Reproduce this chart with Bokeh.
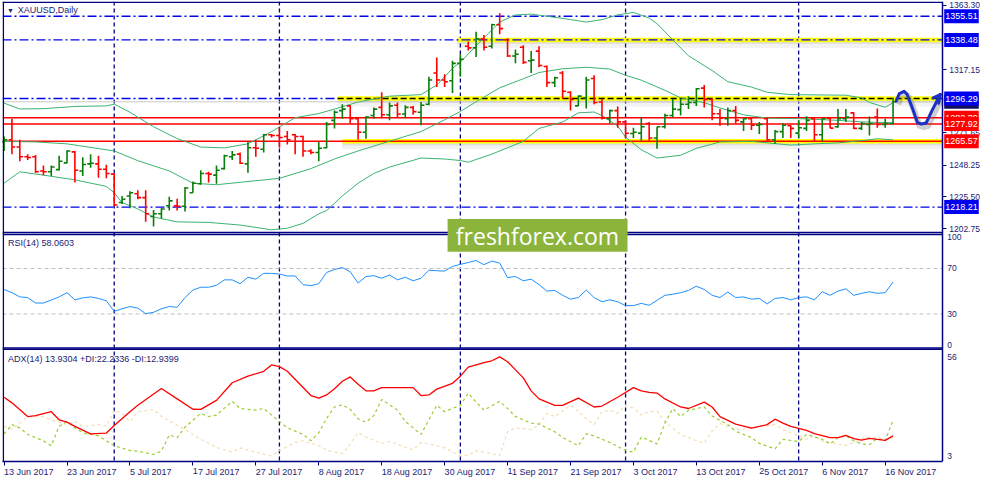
from bokeh.plotting import figure
from bokeh.models import (Range1d, FixedTicker, Span, Label, BoxAnnotation,
                          ColumnDataSource, NumeralTickFormatter)
from bokeh.embed import file_html
from bokeh.resources import INLINE

# ------------------------------------------------------------------ data
tick_bars = [0, 8, 16, 24, 32, 40, 48, 56, 64, 72, 80, 88, 96, 104, 112]
tick_dates = ["13 Jun 2017", "23 Jun 2017", "5 Jul 2017", "17 Jul 2017", "27 Jul 2017",
              "8 Aug 2017", "18 Aug 2017", "30 Aug 2017", "11 Sep 2017", "21 Sep 2017",
              "3 Oct 2017", "13 Oct 2017", "25 Oct 2017", "6 Nov 2017", "16 Nov 2017"]
month_start_bars = [14, 35, 58, 79, 101]
price_ticks = [1363.30, 1317.15, 1271.65, 1248.25, 1225.50, 1202.75]

bars = list(range(114))
open_ = [1265.1, 1266.7, 1261.4, 1254.4, 1254.4, 1244.2, 1243.6, 1245.2, 1250.0, 1257.9,
         1244.2, 1249.3, 1249.3, 1245.4, 1241.9, 1221.5, 1226.2, 1227.8, 1225.0, 1211.5,
         1213.4, 1219.2, 1219.2, 1218.8, 1228.5, 1235.0, 1242.4, 1241.2, 1245.9, 1254.4,
         1256.3, 1249.3, 1260.9, 1259.8, 1270.2, 1269.7, 1269.0, 1270.2, 1269.0, 1258.6,
         1257.5, 1260.9, 1280.6, 1287.6, 1291.0, 1281.8, 1272.0, 1284.1, 1289.9, 1284.6,
         1291.5, 1285.2, 1289.9, 1286.4, 1292.2, 1314.7, 1309.6, 1309.1, 1321.6, 1333.9,
         1332.7, 1339.2, 1333.9, 1349.4, 1338.5, 1326.9, 1333.2, 1323.5, 1330.4, 1319.3,
         1307.7, 1314.7, 1300.8, 1291.0, 1296.8, 1310.7, 1293.8, 1281.8, 1287.6, 1279.5,
         1271.1, 1271.4, 1278.3, 1267.9, 1276.0, 1284.1, 1288.3, 1292.2, 1293.4, 1303.8,
         1295.7, 1285.3, 1281.8, 1287.6, 1279.5, 1281.8, 1277.1, 1281.8, 1266.7, 1272.5,
         1276.7, 1271.4, 1274.8, 1281.8, 1270.2, 1282.2, 1276.0, 1281.8, 1286.0, 1274.8,
         1277.6, 1282.9, 1277.6, 1278.3]
high = [1269.0, 1281.8, 1266.7, 1256.3, 1255.6, 1248.2, 1248.2, 1255.1, 1259.1, 1258.6,
        1254.0, 1256.3, 1255.1, 1248.6, 1242.4, 1226.2, 1229.7, 1230.4, 1230.4, 1216.2,
        1217.4, 1225.7, 1224.3, 1232.7, 1236.6, 1244.7, 1243.6, 1248.2, 1255.8, 1258.6,
        1257.5, 1265.1, 1266.7, 1270.7, 1270.7, 1276.0, 1273.0, 1270.7, 1269.5, 1259.8,
        1265.1, 1279.5, 1287.6, 1292.2, 1291.5, 1282.2, 1283.6, 1289.9, 1300.8, 1293.4,
        1293.4, 1291.5, 1291.0, 1293.8, 1311.9, 1325.8, 1313.7, 1323.5, 1328.1, 1337.4,
        1344.3, 1342.0, 1350.1, 1357.7, 1339.7, 1331.6, 1334.6, 1330.4, 1333.9, 1320.0,
        1311.9, 1316.1, 1301.5, 1298.5, 1311.9, 1313.0, 1296.1, 1288.3, 1290.6, 1280.6,
        1275.3, 1282.9, 1279.5, 1276.0, 1285.3, 1296.1, 1296.1, 1298.0, 1303.8, 1306.1,
        1296.1, 1288.7, 1289.9, 1291.0, 1282.9, 1282.9, 1279.5, 1282.2, 1273.7, 1278.3,
        1277.1, 1280.6, 1283.6, 1282.2, 1282.2, 1282.9, 1288.7, 1288.7, 1286.4, 1279.5,
        1283.4, 1289.2, 1281.8, 1296.8]
low = [1258.6, 1256.3, 1251.2, 1252.1, 1242.9, 1241.2, 1240.5, 1244.5, 1249.8, 1235.9,
       1240.5, 1246.6, 1239.4, 1238.9, 1218.8, 1220.4, 1217.4, 1223.9, 1207.7, 1204.2,
       1210.0, 1215.8, 1215.8, 1215.1, 1228.5, 1234.3, 1235.9, 1235.0, 1245.2, 1252.1,
       1249.3, 1242.9, 1254.4, 1257.5, 1268.3, 1260.9, 1263.2, 1256.3, 1254.4, 1256.3,
       1251.2, 1260.5, 1274.8, 1281.8, 1278.3, 1266.7, 1267.4, 1281.8, 1282.2, 1280.6,
       1282.9, 1282.2, 1284.6, 1277.1, 1291.5, 1304.5, 1304.5, 1300.3, 1311.9, 1330.9,
       1326.2, 1330.9, 1332.3, 1342.5, 1326.2, 1321.6, 1321.1, 1314.7, 1318.8, 1304.5,
       1304.5, 1296.1, 1287.6, 1291.0, 1289.2, 1292.2, 1281.3, 1278.3, 1275.3, 1267.9,
       1267.9, 1266.0, 1266.0, 1260.2, 1274.8, 1282.9, 1284.1, 1288.7, 1291.0, 1289.9,
       1280.6, 1276.7, 1276.7, 1278.3, 1273.0, 1273.7, 1270.7, 1266.0, 1263.7, 1267.9,
       1267.9, 1267.9, 1273.0, 1265.1, 1265.6, 1275.0, 1275.3, 1279.5, 1274.4, 1273.7,
       1269.7, 1275.3, 1275.3, 1277.6]
close = [1266.7, 1261.4, 1254.4, 1253.9, 1243.6, 1243.6, 1247.0, 1251.2, 1258.6, 1244.7,
         1248.9, 1249.8, 1245.4, 1242.4, 1219.7, 1223.9, 1228.5, 1225.0, 1213.4, 1213.4,
         1216.9, 1222.7, 1218.8, 1232.0, 1235.4, 1242.4, 1241.9, 1244.7, 1255.1, 1255.8,
         1249.8, 1260.9, 1260.5, 1270.2, 1269.7, 1268.3, 1266.7, 1269.0, 1258.6, 1257.5,
         1260.5, 1277.6, 1286.4, 1288.7, 1281.8, 1272.0, 1282.9, 1288.7, 1284.6, 1291.0,
         1285.2, 1289.9, 1286.9, 1291.5, 1309.6, 1309.6, 1308.4, 1321.6, 1324.6, 1332.7,
         1339.2, 1333.2, 1349.4, 1346.6, 1326.9, 1328.1, 1322.3, 1323.9, 1320.0, 1307.7,
         1311.2, 1301.5, 1295.7, 1298.0, 1309.6, 1293.4, 1282.2, 1287.6, 1279.5, 1271.3,
         1272.0, 1276.0, 1267.9, 1276.0, 1284.1, 1288.7, 1292.2, 1293.4, 1303.3, 1295.7,
         1285.3, 1282.2, 1287.6, 1280.6, 1281.8, 1277.1, 1277.6, 1266.7, 1272.5, 1277.1,
         1274.8, 1275.3, 1280.6, 1270.2, 1281.8, 1275.0, 1281.8, 1282.9, 1274.8, 1278.3,
         1278.3, 1277.6, 1278.3, 1293.93]

# Bollinger bands (read at sample bars)
bb_upper_bar = [0, 2, 5, 9, 13, 14, 16, 19, 22, 25, 28, 31, 34, 37, 40, 42, 45, 49, 53, 55,
                57, 58, 61, 63, 65, 67, 69, 72, 74, 76, 78, 80, 82, 83, 85, 87, 90, 92, 95,
                97, 100, 107, 109, 110, 112, 113]
bb_upper = [1293.0, 1288.8, 1289.0, 1290.6, 1291.0, 1292.3, 1286.4, 1276.0, 1267.5, 1261.4,
            1260.8, 1263.7, 1272.5, 1282.5, 1285.5, 1288.7, 1293.8, 1298.0, 1299.1, 1306.0,
            1318.0, 1322.5, 1340.0, 1351.3, 1356.4, 1357.0, 1355.5, 1353.1, 1351.3, 1353.0,
            1356.5, 1358.2, 1354.2, 1350.1, 1338.5, 1327.0, 1316.5, 1308.4, 1304.5, 1300.8,
            1299.1, 1298.7, 1296.8, 1293.5, 1290.0, 1293.3]
bb_mid_bar = [0, 4, 8, 14, 17, 21, 24, 27, 31, 35, 39, 42, 45, 49, 53, 56, 58, 60, 63, 66,
              68, 71, 74, 77, 79, 81, 84, 86, 89, 91, 94, 97, 101, 106, 109, 113]
bb_mid = [1265.5, 1265.1, 1263.7, 1258.6, 1251.6, 1244.2, 1235.4, 1234.3, 1236.6, 1238.9,
          1245.9, 1252.8, 1258.6, 1265.6, 1272.5, 1281.0, 1287.0, 1294.0, 1304.0, 1310.5,
          1315.0, 1317.7, 1318.8, 1317.5, 1313.0, 1309.5, 1302.2, 1296.8, 1293.3, 1289.5,
          1284.6, 1282.2, 1281.8, 1280.6, 1279.5, 1278.8]
bb_low_bar = [0, 2, 5, 9, 13, 14, 15, 17, 19, 22, 26, 30, 34, 36, 38, 40, 41, 43, 45, 47,
              49, 53, 56, 58, 59, 62, 64, 66, 68, 71, 73, 75, 76, 78, 79, 81, 83, 86, 88,
              90, 91, 95, 100, 103, 106, 109, 111, 113]
bb_low = [1235.4, 1243.6, 1241.2, 1237.8, 1233.1, 1228.5, 1221.5, 1216.9, 1211.1, 1207.6,
          1207.2, 1205.3, 1201.9, 1203.0, 1206.5, 1213.4, 1215.7, 1226.2, 1235.4, 1242.4,
          1247.0, 1253.5, 1252.8, 1251.7, 1250.5, 1256.3, 1260.9, 1265.5, 1274.8, 1279.4,
          1286.0, 1286.6, 1284.1, 1276.5, 1268.5, 1259.5, 1253.5, 1255.5, 1260.5, 1263.5,
          1265.1, 1265.5, 1262.8, 1263.7, 1264.4, 1266.0, 1267.4, 1266.6]

rsi = [51.5, 48.7, 45.0, 44.4, 39.6, 39.6, 42.2, 45.0, 48.7, 42.4,
       44.1, 45.0, 43.6, 41.6, 32.2, 34.5, 36.5, 35.1, 30.2, 31.4,
       34.5, 36.5, 35.9, 44.4, 51.0, 53.5, 53.5, 55.2, 60.0, 60.0,
       56.6, 62.3, 60.6, 65.7, 65.7, 65.1, 63.4, 63.4, 55.8, 54.9,
       56.6, 66.5, 69.1, 70.8, 67.1, 57.2, 62.9, 63.7, 61.4, 64.3,
       60.0, 62.3, 59.2, 61.4, 68.5, 68.0, 67.7, 71.9, 73.6, 75.3,
       77.0, 73.4, 76.5, 74.8, 62.0, 62.9, 59.2, 60.6, 55.8, 50.1,
       50.7, 46.4, 43.0, 44.4, 51.0, 44.4, 40.7, 42.4, 40.7, 37.3,
       37.3, 39.3, 37.6, 42.0, 46.4, 47.3, 48.7, 50.7, 54.4, 51.5,
       46.4, 44.4, 49.3, 44.4, 45.0, 43.0, 43.6, 38.8, 43.6, 44.4,
       42.4, 44.4, 45.0, 42.4, 49.5, 46.4, 50.1, 52.1, 46.4, 48.1,
       49.5, 48.1, 48.7, 58.06]

adx_bar = [0, 1, 3, 4, 6, 7, 8, 9, 11, 13, 14, 16, 17, 20, 22, 24, 25, 27, 29, 31,
           33, 34, 35, 36, 39, 40, 41, 42, 43, 44, 45, 46, 47, 48, 52, 53, 54, 55, 57, 58,
           59, 61, 62, 63, 64, 66, 67, 68, 70, 71, 73, 75, 76, 78, 80, 81, 82, 83, 84, 86,
           87, 89, 90, 91, 93, 95, 97, 98, 99, 100, 102, 103, 105, 106, 107, 108, 109, 110,
           111, 112, 113]
adx = [34.5, 31.5, 24.2, 24.7, 26.8, 22.5, 21.2, 19.0, 15.0, 15.4, 19.4, 26.8, 30.2, 39.1,
       33.6, 28.1, 28.0, 32.8, 42.2, 45.7, 48.3, 51.7, 50.8, 48.3, 35.4, 34.0, 35.7, 39.0,
       43.0, 45.3, 41.4, 37.9, 37.9, 39.6, 39.6, 35.4, 35.7, 38.8, 41.9, 45.7, 50.5, 52.9,
       53.9, 56.0, 53.4, 44.8, 37.9, 33.6, 30.2, 30.2, 34.0, 29.3, 29.8, 34.5, 39.6, 37.9,
       37.1, 36.7, 33.6, 29.3, 28.5, 31.9, 29.3, 24.2, 20.2, 18.0, 19.9, 22.8, 20.7, 19.0,
       16.8, 15.1, 13.0, 13.0, 14.2, 12.5, 11.6, 12.6, 12.0, 11.5, 13.93]
pdi_bar = [0, 1, 2, 3, 5, 6, 7, 8, 9, 10, 12, 13, 14, 16, 17, 19, 20, 21, 22, 23,
           25, 26, 27, 29, 30, 32, 33, 35, 36, 38, 39, 40, 41, 42, 43, 44, 45, 46, 47, 48,
           50, 51, 53, 54, 55, 56, 58, 59, 60, 61, 63, 64, 65, 67, 68, 70, 71, 73, 74, 75,
           77, 79, 80, 81, 82, 83, 84, 85, 86, 87, 89, 90, 92, 93, 95, 96, 98, 99, 101, 102,
           104, 105, 106, 107, 108, 109, 110, 111, 112, 113]
pdi = [15.0, 19.9, 18.2, 14.7, 11.3, 8.7, 19.0, 21.6, 18.2, 15.6, 13.9, 11.3, 8.7, 6.1,
       5.8, 4.0, 5.8, 14.4, 13.0, 18.5, 25.9, 24.2, 25.0, 32.3, 28.5, 27.6, 28.5, 21.6,
       18.2, 14.7, 11.3, 15.6, 23.3, 29.3, 30.5, 28.0, 23.0, 21.2, 24.7, 33.3, 27.6, 21.6,
       14.7, 22.5, 30.2, 26.8, 30.2, 36.7, 31.9, 27.6, 32.3, 28.5, 24.2, 20.7, 20.2, 16.1,
       13.0, 8.7, 15.0, 13.9, 10.4, 6.1, 5.3, 13.3, 11.5, 9.6, 20.7, 28.5, 24.2, 27.6,
       29.3, 24.5, 19.9, 16.4, 13.0, 9.9, 7.0, 12.1, 10.9, 14.7, 12.1, 9.6, 13.0, 13.9,
       11.3, 9.6, 9.2, 12.6, 11.3, 22.23]
mdi_bar = [0, 1, 2, 3, 5, 6, 8, 9, 10, 12, 13, 14, 15, 16, 17, 19, 20, 23, 25, 27,
           29, 30, 32, 34, 35, 37, 38, 40, 41, 43, 44, 45, 46, 48, 49, 51, 52, 53, 54, 56,
           57, 58, 59, 60, 62, 63, 64, 65, 67, 68, 69, 70, 72, 73, 74, 75, 76, 77, 78, 79,
           80, 81, 82, 83, 84, 86, 88, 89, 90, 91, 93, 95, 96, 98, 99, 100, 102, 103, 104,
           105, 107, 109, 110, 111, 112, 113]
mdi = [19.0, 17.3, 20.7, 24.2, 24.2, 22.5, 19.9, 21.6, 19.0, 19.9, 19.0, 27.6, 25.9, 21.6,
       26.8, 28.0, 24.2, 17.3, 12.1, 7.8, 5.2, 7.5, 5.2, 3.2, 6.1, 10.4, 11.3, 8.7, 6.3,
       4.4, 9.6, 15.6, 13.3, 9.9, 10.9, 7.8, 6.5, 10.4, 9.6, 7.5, 5.3, 3.5, 3.5, 6.1, 4.4,
       3.5, 16.1, 18.2, 17.3, 19.9, 25.9, 24.2, 30.2, 27.1, 23.0, 19.9, 26.8, 27.6, 25.9,
       30.2, 28.8, 25.0, 26.8, 27.1, 21.5, 14.7, 11.3, 10.1, 16.5, 20.5, 17.3, 18.2, 19.0,
       19.9, 17.3, 15.6, 12.1, 13.9, 11.3, 10.4, 8.7, 12.1, 13.3, 13.0, 12.1, 12.94]

# horizontal price levels drawn on the chart
blue_levels = [1355.51, 1338.48, 1296.29, 1218.21]
red_levels = [1282.39, 1277.92, 1265.57]
yellow_levels = [1338.48, 1296.29, 1265.57]
last_price = 1293.93

# hand drawn forecast path
forecast_bar = [113.4, 113.8, 114.4, 114.8, 115.5, 116.1, 116.6, 117.2, 117.95, 119.0]
forecast_price = [1294.5, 1299.9, 1301.5, 1299.2, 1288.7, 1279.0, 1278.0, 1278.7, 1287.6, 1299.2]
arrow_head_bar = [118.1, 118.8]
arrow_head_price = [1296.8, 1292.9]

# ------------------------------------------------------------------ layout
NAVY = "#000080"
TXT = "#1c1c72"
FONT = "Liberation Sans"
W, H = 984, 484
XMIN, XEND = -0.2, 124.625
AXIS_X = 119.25          # bar position of the price scale line
P_TOP, P_BOT = 1366.08, 1035.25     # price range over the whole frame
R_TOP, R_BOT = 305.1, -99.96        # RSI range over the whole frame
A_TOP, A_BOT = 245.2, 0.273         # ADX range over the whole frame

p = figure(width=W, height=H, output_backend="svg", toolbar_location=None,
           x_range=Range1d(XMIN, XEND), y_range=Range1d(P_BOT, P_TOP),
           y_axis_location="right", min_border_left=2, min_border_right=0,
           min_border_top=1, min_border_bottom=0,
           background_fill_color="white", border_fill_color="white")
p.extra_y_ranges = {"rsi": Range1d(R_BOT, R_TOP), "adx": Range1d(A_BOT, A_TOP)}
p.xgrid.visible = False
p.ygrid.visible = False
p.outline_line_color = None

ya = p.yaxis[0]
ya.ticker = FixedTicker(ticks=price_ticks)
ya.formatter = NumeralTickFormatter(format="0.00")
ya.fixed_location = AXIS_X
xa = p.xaxis[0]
xa.ticker = FixedTicker(ticks=tick_bars)
xa.major_label_overrides = {b: d for b, d in zip(tick_bars, tick_dates)}
xa.bounds = (XMIN, AXIS_X)
for ax in (xa, ya):
    ax.major_label_text_font = FONT
    ax.major_label_text_font_size = "8.5px"
    ax.major_label_text_color = TXT
    ax.axis_line_color = NAVY
    ax.axis_line_width = 1.5
    ax.major_tick_line_color = NAVY
    ax.minor_tick_line_color = None
    ax.major_tick_in = 0
    ax.major_tick_out = 4
    ax.major_label_standoff = 3
    ax.axis_label_standoff = 0
xa.major_label_text_font_size = "9px"
xa.major_label_orientation = -0.0001
xa.major_label_standoff = 6

# month separators
for b in month_start_bars:
    p.add_layout(Span(location=b, dimension="height", line_color=NAVY, line_dash="4 3",
                      line_width=1.3, level="underlay"))
# RSI 70 / 30 levels
p.segment([XMIN, XMIN], [70, 30], [AXIS_X, AXIS_X], [70, 30], y_range_name="rsi",
          line_color="#c0c0c0", line_dash="4 3", line_width=1)

# yellow highlighted levels with shadow
yellow_from = [57.6, 42.4, 43.0]
ysrc = ColumnDataSource(dict(x0=yellow_from, x1=[AXIS_X] * 3, y=yellow_levels,
                             s1=[v - 1.6 for v in yellow_levels],
                             s2=[v - 3.6 for v in yellow_levels]))
p.segment("x0", "s2", "x1", "s2", source=ysrc, line_color="#808080", line_alpha=0.10, line_width=6)
p.segment("x0", "s1", "x1", "s1", source=ysrc, line_color="#808080", line_alpha=0.16, line_width=4)
p.segment("x0", "y", "x1", "y", source=ysrc, line_color="#ffff00", line_width=4.5)

# bid line
p.segment(XMIN, last_price, AXIS_X, last_price, line_color="#c8c8c8", line_width=1)
# blue dash-dot levels
blue_to = [AXIS_X, AXIS_X, 42.4, AXIS_X]
p.segment([XMIN] * 4, blue_levels, blue_to, blue_levels, line_color="#0000ee",
          line_width=1.4, line_dash="9 3 2 3")
# black dashed over 1296.29
p.segment(42.4, yellow_levels[1], AXIS_X, yellow_levels[1], line_color="black",
          line_width=1.4, line_dash="6 3")
# red levels
p.segment([XMIN] * 3, red_levels, [AXIS_X] * 3, red_levels, line_color="#ff0000", line_width=1.5)

# Bollinger bands
BB = "#3cb371"
p.line(bb_upper_bar, bb_upper, line_color=BB, line_width=1)
p.line(bb_mid_bar, bb_mid, line_color=BB, line_width=1)
p.line(bb_low_bar, bb_low, line_color=BB, line_width=1)

# OHLC bars
colors = ["#0a7d0a" if c >= o else "#ff0000" for o, c in zip(open_, close)]
src = ColumnDataSource(dict(x=bars, xl=[b - 0.42 for b in bars], xr=[b + 0.42 for b in bars],
                            o=open_, h=high, l=low, c=close, color=colors))
p.segment("x", "l", "x", "h", source=src, line_color="color", line_width=1.6)
p.segment("xl", "o", "x", "o", source=src, line_color="color", line_width=1.6)
p.segment("x", "c", "xr", "c", source=src, line_color="color", line_width=1.6)

# forecast arrow
p.line([b + 0.25 for b in forecast_bar], [v - 2.2 for v in forecast_price], line_color="#606060",
       line_alpha=0.3, line_width=6, line_join="round")
p.line(forecast_bar, forecast_price, line_color="#1a30c8", line_width=3, line_join="round",
       line_cap="round")
p.segment(arrow_head_bar, arrow_head_price, [forecast_bar[-1]] * 2, [forecast_price[-1]] * 2,
          line_color="#1a30c8", line_width=3, line_cap="round")

# RSI
p.line(bars, rsi, y_range_name="rsi", line_color="#1e90ff", line_width=1)
# ADX
p.line(mdi_bar, mdi, y_range_name="adx", line_color="#f5deb3", line_width=1.2, line_dash="3 3")
p.line(pdi_bar, pdi, y_range_name="adx", line_color="#9acd32", line_width=1.2, line_dash="3 3")
p.line(adx_bar, adx, y_range_name="adx", line_color="#ff0000", line_width=1.3)

# panel borders / separators
p.add_layout(Span(location=XMIN + 0.1, dimension="height", line_color=NAVY, line_width=1.5))
p.segment(XMIN, P_TOP - 0.5, AXIS_X, P_TOP - 0.5, line_color=NAVY, line_width=1.5)
p.segment(XMIN, 1199.97, AXIS_X, 1199.97, line_color=NAVY, line_width=1.5)
p.segment([XMIN, XMIN], [100, 0], [AXIS_X, AXIS_X], [100, 0], y_range_name="rsi",
          line_color=NAVY, line_width=1.5)
p.segment(XMIN, 60, AXIS_X, 60, y_range_name="adx", line_color=NAVY, line_width=1.5)

# watermark (spans the main / RSI boundary)
p.add_layout(BoxAnnotation(left=56.375, right=79.25, bottom=1186.07, top=1209.7,
                           fill_color="#8cb43c", fill_alpha=1.0, line_alpha=0))
p.add_layout(Label(x=67.8, y=1197.2, text="freshforex.com",
                   text_align="center", text_baseline="middle", text_color="white",
                   text_font="Open Sans", text_font_size="23px"))


# panel titles
def title(x, y, t, size="9px", rng="default"):
    p.add_layout(Label(x=x, y=y, y_range_name=rng, text=t, text_baseline="middle",
                       text_font=FONT, text_font_size=size, text_color=TXT))


title(0.375, 1359.8, "\u25bc", "7px")
title(1.75, 1359.8, "XAUUSD,Daily")
title(0.5, 92.3, "RSI(14) 58.0603", rng="rsi")
title(0.5, 54.8, "ADX(14) 13.9304 +DI:22.2336 -DI:12.9399", rng="adx")

# right scale labels of RSI / ADX panels
for v, rng, base in ((100, "rsi", "top"), (70, "rsi", "middle"), (30, "rsi", "middle"),
                     (0, "rsi", "bottom"), (56, "adx", "middle"), (3, "adx", "middle")):
    p.add_layout(Label(x=AXIS_X, x_offset=5, y=v, y_range_name=rng, text=str(v),
                       text_baseline=base, text_font=FONT, text_font_size="8.5px",
                       text_color=TXT))

# price boxes on the right scale
boxes = [(last_price, "#10105c")] + [(v, "#0000f0") for v in blue_levels] + \
        [(v, "#ff0000") for v in red_levels]
for v, col in boxes:
    p.add_layout(Label(x=AXIS_X, x_offset=2, y=v, text="%.2f" % v,
                       text_baseline="middle", text_font=FONT, text_font_size="9px",
                       text_color="white", background_fill_color=col, padding=(1, 4)))

open("out.html", "w").write(file_html(p, INLINE))
